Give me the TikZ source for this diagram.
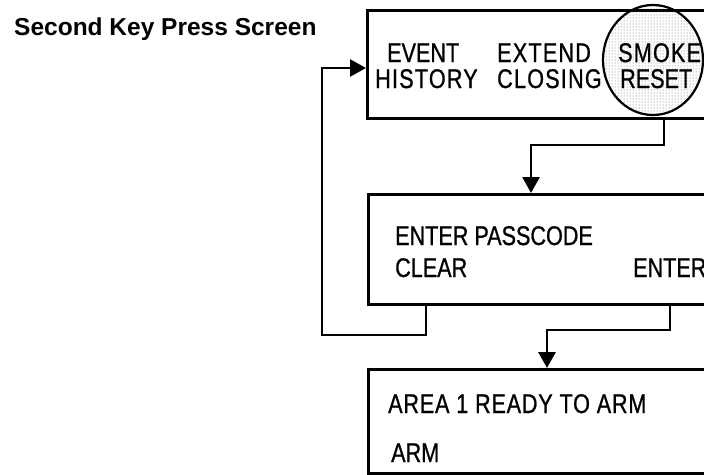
\documentclass[tikz,border=0pt]{standalone}
\usepackage{fontspec}
\setmainfont{Liberation Sans}
\newfontfamily\boxfont[FakeStretch=0.8,FakeBold=0.8]{Liberation Sans}
\newfontfamily\boxwide[FakeStretch=0.8,FakeBold=0.8,LetterSpace=4.5]{Liberation Sans}
\newfontfamily\boxmid[FakeStretch=0.8,FakeBold=0.8,LetterSpace=3]{Liberation Sans}
\usetikzlibrary{arrows.meta,patterns,shapes.geometric}
\tikzset{
  screen/.style={draw=black, line width=2.8pt, rectangle, anchor=north west, inner sep=0pt},
  lbl/.style={anchor=base west, inner sep=0pt, font=\boxfont\fontsize{27}{29}\selectfont},
  lblw/.style={anchor=base west, inner sep=0pt, font=\boxwide\fontsize{27}{29}\selectfont},
  lblm/.style={anchor=base west, inner sep=0pt, font=\boxmid\fontsize{27}{29}\selectfont},
  conn/.style={line width=2.8pt, -{Triangle[length=16pt,width=17pt]}},
  title/.style={anchor=base west, inner sep=0pt, font=\bfseries\fontsize{24.5}{27}\selectfont},
}
\begin{document}
\begin{tikzpicture}[x=1pt,y=-1pt]
\useasboundingbox (0,0) rectangle (704,474);
\clip (0,0) rectangle (704,474);
% title
\node[title] (t) at (14,35) {Second Key Press Screen};
% box 1
\node[screen, minimum width=360pt, minimum height=108pt] (b1) at (366,9) {};
\node[draw=black, line width=2.2pt, ellipse, minimum width=100pt, minimum height=110pt, pattern=dots, pattern color=black!60] (smk) at (653,60) {};
\node[lbl] (ev) at (387,62) {EVENT};
\node[lblw] (hi) at (375,88) {HISTORY};
\node[lblw] (ex) at (497,62) {EXTEND};
\node[lblw] (cl) at (497,88) {CLOSING};
\node[lblw] (sm) at (618,62) {SMOKE};
\node[lbl] (rs) at (620,88) {RESET};
% box 2
\node[screen, minimum width=360pt, minimum height=110pt] (b2) at (367,193) {};
\node[lbl] (ep) at (395,245) {ENTER PASSCODE};
\node[lbl] (cr) at (395,277) {CLEAR};
\node[lbl] (en) at (633,277) {ENTER};
% box 3
\node[screen, minimum width=360pt, minimum height=104pt] (b3) at (367,368) {};
\node[lblm] (ar) at (388,413) {AREA 1 READY TO ARM};
\node[lbl] (am) at (391,462) {ARM};
% connectors
\coordinate (k1) at (664,145);
\coordinate (k2) at (531,145);
\draw[conn] (b1.south -| k1) -- (k1) -- (k2) -- (b2.north -| k2);
\coordinate (l1) at (426,335);
\coordinate (l2) at (322,335);
\coordinate (l3) at (322,68);
\draw[conn] (b2.south -| l1) -- (l1) -- (l2) -- (l3) -- (b1.west |- l3);
\coordinate (r1) at (670,330);
\coordinate (r2) at (547,330);
\draw[conn] (b2.south -| r1) -- (r1) -- (r2) -- (b3.north -| r2);
\end{tikzpicture}
\end{document}
